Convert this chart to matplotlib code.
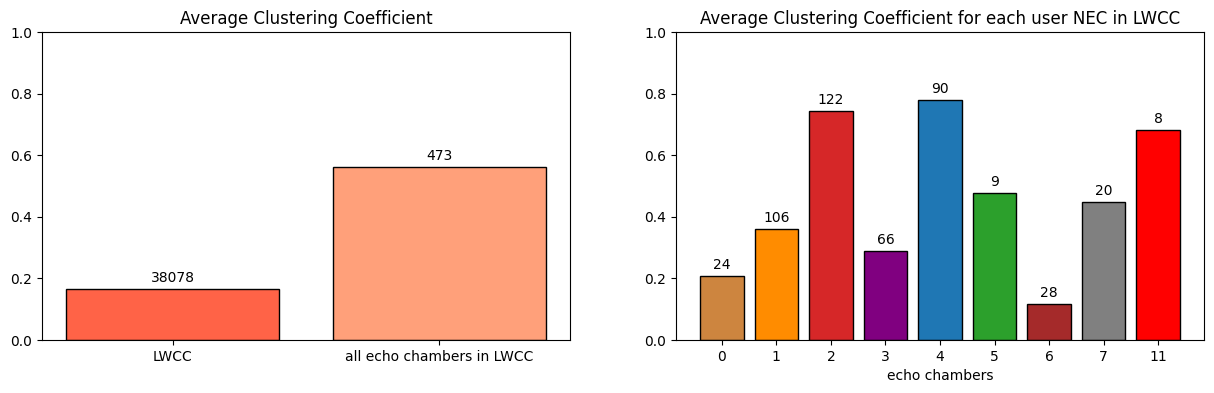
import matplotlib.pyplot as plt

# left panel
overall_labels = ['LWCC', 'all echo chambers in LWCC']
overall_values = [0.166, 0.562]
overall_counts = [38078, 473]
overall_colors = ['tomato', 'lightsalmon']

# right panel
chamber_labels = ['0', '1', '2', '3', '4', '5', '6', '7', '11']
chamber_values = [0.207, 0.360, 0.743, 0.289, 0.778, 0.477, 0.117, 0.447, 0.681]
chamber_counts = [24, 106, 122, 66, 90, 9, 28, 20, 8]
chamber_colors = ['peru', 'darkorange', 'tab:red', 'purple', 'tab:blue',
                  'tab:green', 'brown', 'gray', 'red']

fig = plt.figure(figsize=(12.14, 3.93), dpi=100)
ax1 = fig.add_axes([42/1214, 53/393, 528/1214, 308/393])
ax2 = fig.add_axes([676/1214, 53/393, 528/1214, 308/393])

bars = ax1.bar(overall_labels, overall_values, color=overall_colors, edgecolor='black')
ax1.bar_label(bars, labels=[str(c) for c in overall_counts], padding=3)
ax1.set_ylim(0, 1)
ax1.set_title('Average Clustering Coefficient')

bars = ax2.bar(chamber_labels, chamber_values, color=chamber_colors, edgecolor='black')
ax2.bar_label(bars, labels=[str(c) for c in chamber_counts], padding=3)
ax2.set_ylim(0, 1)
ax2.set_xlabel('echo chambers')
ax2.set_title('Average Clustering Coefficient for each user NEC in LWCC')

fig.savefig('out.png')
